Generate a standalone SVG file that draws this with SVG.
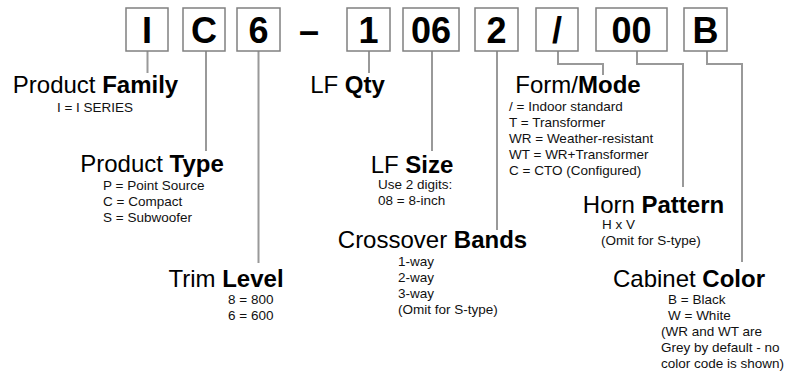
<svg xmlns="http://www.w3.org/2000/svg" width="799" height="375" viewBox="0 0 799 375">
<style>
.box{fill:#fff;stroke:#808080;stroke-width:1.5}
.code{font-family:"Liberation Sans",Arial,sans-serif;font-size:36px;font-weight:bold;fill:#000;text-anchor:middle}
.title{font-family:"Liberation Sans",Arial,sans-serif;font-size:24px;fill:#000;text-anchor:middle}
.title tspan.b{font-weight:bold}
.sm{font-family:"Liberation Sans",Arial,sans-serif;font-size:13.5px;fill:#111}
.conn{fill:none;stroke:#999;stroke-width:2}
</style>
<rect width="799" height="375" fill="#fff"/>
<g id="connectors">
<path class="conn" d="M147.5 51V73"/>
<path class="conn" d="M206 51V151"/>
<path class="conn" d="M258.5 51V263"/>
<path class="conn" d="M369 51V73"/>
<path class="conn" d="M432 51V151"/>
<path class="conn" d="M497 51V230"/>
<path class="conn" d="M558 51V64H603V75"/>
<path class="conn" d="M637 51V64H683V187"/>
<path class="conn" d="M707 51V64H742V262"/>
</g>
<g id="box-I"><rect class="box" x="126" y="8" width="42" height="43"/><text class="code" x="147" y="43">I</text></g>
<g id="box-C"><rect class="box" x="183" y="8" width="42" height="43"/><text class="code" x="204" y="43">C</text></g>
<g id="box-6"><rect class="box" x="237" y="8" width="43" height="43"/><text class="code" x="258.5" y="43">6</text></g>
<g id="dash"><text class="code" x="309" y="43">–</text></g>
<g id="box-1"><rect class="box" x="347" y="8" width="43" height="43"/><text class="code" x="368.5" y="43">1</text></g>
<g id="box-06"><rect class="box" x="403" y="8" width="56" height="43"/><text class="code" x="431" y="43">06</text></g>
<g id="box-2"><rect class="box" x="475" y="8" width="43" height="43"/><text class="code" x="496.5" y="43">2</text></g>
<g id="box-slash"><rect class="box" x="536" y="8" width="42" height="43"/><text class="code" x="557" y="43">/</text></g>
<g id="box-00"><rect class="box" x="596" y="8" width="71" height="43"/><text class="code" x="631.5" y="43">00</text></g>
<g id="box-B"><rect class="box" x="684" y="8" width="43" height="43"/><text class="code" x="705.5" y="43">B</text></g>

<g id="product-family">
<text class="title" x="95.5" y="93">Product <tspan class="b">Family</tspan></text>
<text class="sm" x="95" y="112" text-anchor="middle">I = I SERIES</text>
</g>
<g id="product-type">
<text class="title" x="152" y="172">Product <tspan class="b">Type</tspan></text>
<text class="sm" x="103" y="190">P = Point Source</text>
<text class="sm" x="103" y="206">C = Compact</text>
<text class="sm" x="103" y="222">S = Subwoofer</text>
</g>
<g id="trim-level">
<text class="title" x="226" y="287">Trim <tspan class="b">Level</tspan></text>
<text class="sm" x="228" y="304">8 = 800</text>
<text class="sm" x="228" y="320">6 = 600</text>
</g>
<g id="lf-qty">
<text class="title" x="347.5" y="93">LF <tspan class="b">Qty</tspan></text>
</g>
<g id="lf-size">
<text class="title" x="412" y="173">LF <tspan class="b">Size</tspan></text>
<text class="sm" x="378" y="189">Use 2 digits:</text>
<text class="sm" x="378" y="205">08 = 8-inch</text>
</g>
<g id="crossover-bands">
<text class="title" x="432.5" y="248">Crossover <tspan class="b">Bands</tspan></text>
<text class="sm" x="398" y="266">1-way</text>
<text class="sm" x="398" y="282">2-way</text>
<text class="sm" x="398" y="298">3-way</text>
<text class="sm" x="398" y="314">(Omit for S-type)</text>
</g>
<g id="form-mode">
<text class="title" x="578" y="93">Form/<tspan class="b">Mode</tspan></text>
<text class="sm" x="509" y="111">/ = Indoor standard</text>
<text class="sm" x="509" y="127">T = Transformer</text>
<text class="sm" x="509" y="143">WR = Weather-resistant</text>
<text class="sm" x="509" y="159">WT = WR+Transformer</text>
<text class="sm" x="509" y="175">C = CTO (Configured)</text>
</g>
<g id="horn-pattern">
<text class="title" x="653.5" y="213">Horn <tspan class="b">Pattern</tspan></text>
<text class="sm" x="602" y="229">H x V</text>
<text class="sm" x="601" y="245">(Omit for S-type)</text>
</g>
<g id="cabinet-color">
<text class="title" x="689" y="287">Cabinet <tspan class="b">Color</tspan></text>
<text class="sm" x="668" y="304">B = Black</text>
<text class="sm" x="668" y="320">W = White</text>
<text class="sm" x="661" y="336">(WR and WT are</text>
<text class="sm" x="661" y="352">Grey by default - no</text>
<text class="sm" x="661" y="368">color code is shown)</text>
</g>
</svg>
